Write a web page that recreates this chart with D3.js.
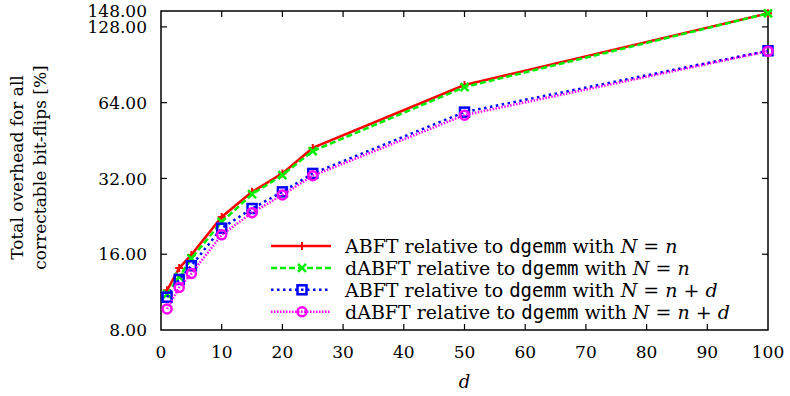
<!DOCTYPE html>
<html>
<head>
<meta charset="utf-8">
<script src="https://cdn.jsdelivr.net/npm/d3@7"></script>
<style>
  body { margin: 0; background: #fff; }
  text { font-family: "DejaVu Serif", "Liberation Serif", serif; }
  tspan.mono { font-family: "DejaVu Sans Mono", "Liberation Mono", monospace; }
</style>
</head>
<body>
<svg id="chart" width="790" height="396"><g></g></svg>
<script>
// values
const dValues = [1, 3, 5, 10, 15, 20, 25, 50, 100];
const abftN   = [11.5, 14.1, 15.9, 22.5, 28.3, 33.5, 42.3, 75.2, 145.0];
const dabftN  = [11.1, 13.0, 15.4, 21.5, 27.7, 33.0, 41.1, 73.8, 144.8];
const abftNd  = [10.8, 12.7, 14.4, 20.3, 24.3, 28.3, 33.5, 58.7, 102.9];
const dabftNd = [9.7, 11.8, 13.4, 19.1, 23.4, 27.5, 32.8, 57.1, 102.5];

const xTicks = [0, 10, 20, 30, 40, 50, 60, 70, 80, 90, 100];
const yTicks = [8, 16, 32, 64, 128, 148];

const seriesNames = ["ABFT", "dABFT", "ABFT", "dABFT"];
const seriesRhs = ["n", "n", "n+d", "n+d"];

const margin = {top: 11, right: 22, bottom: 66, left: 161};
const width = 790 - margin.left - margin.right;
const height = 396 - margin.top - margin.bottom;

const styles = [
  {color: "#ff0000", dash: null, marker: "plus"},
  {color: "#00ee00", dash: "6,3", marker: "cross"},
  {color: "#0000ff", dash: "2.5,3.5", marker: "square"},
  {color: "#ff00ff", dash: "1.5,1.5", marker: "circle"}
];
const seriesData = [abftN, dabftN, abftNd, dabftNd];

const svg = d3.select("#chart").select("g")
  .attr("transform", `translate(${margin.left},${margin.top})`);

const x = d3.scaleLinear().domain([0, 100]).range([0, width]);
const y = d3.scaleLog().base(2).domain([8, 148]).range([height, 0]);

// frame
svg.append("rect")
  .attr("width", width).attr("height", height)
  .attr("fill", "none").attr("stroke", "#000").attr("stroke-width", 1.5);

// ticks (inside, mirrored)
const tl = 6;
svg.selectAll("line.xt").data(xTicks.slice(1, -1)).join("line")
  .attr("x1", d => x(d)).attr("x2", d => x(d))
  .attr("y1", height).attr("y2", height - tl)
  .attr("stroke", "#000").attr("stroke-width", 1.2);
svg.selectAll("line.xt2").data(xTicks.slice(1, -1)).join("line")
  .attr("x1", d => x(d)).attr("x2", d => x(d))
  .attr("y1", 0).attr("y2", tl)
  .attr("stroke", "#000").attr("stroke-width", 1.2);
svg.selectAll("line.yt").data(yTicks.slice(1, -1)).join("line")
  .attr("x1", 0).attr("x2", tl)
  .attr("y1", d => y(d)).attr("y2", d => y(d))
  .attr("stroke", "#000").attr("stroke-width", 1.2);
svg.selectAll("line.yt2").data(yTicks.slice(1, -1)).join("line")
  .attr("x1", width).attr("x2", width - tl)
  .attr("y1", d => y(d)).attr("y2", d => y(d))
  .attr("stroke", "#000").attr("stroke-width", 1.2);

// tick labels
svg.selectAll("text.xl").data(xTicks).join("text")
  .attr("x", d => x(d)).attr("y", height + 28)
  .attr("text-anchor", "middle").attr("font-size", 17)
  .text(d => d);
svg.selectAll("text.yl").data(yTicks).join("text")
  .attr("x", -14).attr("y", d => y(d)).attr("dy", "0.36em")
  .attr("text-anchor", "end").attr("font-size", 17)
  .text(d => d.toFixed(2));

// axis titles
svg.append("text")
  .attr("x", width / 2).attr("y", height + 58)
  .attr("text-anchor", "middle").attr("font-size", 18)
  .attr("font-style", "italic").text("d");
const yt = svg.append("text")
  .attr("transform", `translate(${-138},${height / 2 - 3}) rotate(-90)`)
  .attr("text-anchor", "middle").attr("font-size", 17);
yt.append("tspan").attr("x", 0).attr("dy", 0).text("Total overhead for all");
yt.append("tspan").attr("x", 0).attr("dy", 23).text("correctable bit-flips [%]");

// markers
function drawMarker(g, kind, color, size) {
  const s = size;
  if (kind === "plus") {
    g.append("path").attr("d", `M${-s},0H${s}M0,${-s}V${s}`)
      .attr("stroke", color).attr("stroke-width", 2).attr("fill", "none");
  } else if (kind === "cross") {
    g.append("path").attr("d", `M${-s},${-s}L${s},${s}M${-s},${s}L${s},${-s}`)
      .attr("stroke", color).attr("stroke-width", 2.5).attr("fill", "none");
  } else if (kind === "square") {
    g.append("rect").attr("x", -s).attr("y", -s).attr("width", 2 * s).attr("height", 2 * s)
      .attr("stroke", color).attr("stroke-width", 2.5).attr("fill", "none");
  } else {
    g.append("circle").attr("r", s)
      .attr("stroke", color).attr("stroke-width", 2.5).attr("fill", "none");
  }
}
const markerSize = [4, 4, 4.5, 4.5];

const line = d3.line().x(d => x(d[0])).y(d => y(d[1]));

seriesData.forEach((vals, i) => {
  const st = styles[i];
  const pts = dValues.map((d, j) => [d, vals[j]]);
  svg.append("path").datum(pts)
    .attr("d", line)
    .attr("fill", "none").attr("stroke", st.color)
    .attr("stroke-width", 2.5)
    .attr("stroke-dasharray", st.dash);
  pts.forEach(p => {
    const g = svg.append("g").attr("transform", `translate(${x(p[0])},${y(p[1])})`);
    drawMarker(g, st.marker, st.color, markerSize[i]);
  });
});

// legend
const legend = svg.append("g").attr("transform", "translate(110,235)");
seriesData.forEach((vals, i) => {
  const st = styles[i];
  const row = legend.append("g").attr("transform", `translate(0,${i * 21.9})`);
  row.append("line").attr("x1", 0).attr("x2", 60).attr("y1", 0).attr("y2", 0)
    .attr("stroke", st.color).attr("stroke-width", 2.5)
    .attr("stroke-dasharray", st.dash);
  const mg = row.append("g").attr("transform", "translate(31,0)");
  drawMarker(mg, st.marker, st.color, markerSize[i]);
  const t = row.append("text").attr("x", 74).attr("y", 0).attr("dy", "0.36em")
    .attr("font-size", 19);
  t.append("tspan").text(seriesNames[i] + " relative to ");
  t.append("tspan").attr("class", "mono").text("dgemm");
  t.append("tspan").text(" with ");
  t.append("tspan").attr("font-style", "italic").text("N");
  t.append("tspan").text(" = ");
  if (seriesRhs[i] === "n") {
    t.append("tspan").attr("font-style", "italic").text("n");
  } else {
    t.append("tspan").attr("font-style", "italic").text("n");
    t.append("tspan").text(" + ");
    t.append("tspan").attr("font-style", "italic").text("d");
  }
});
</script>
</body>
</html>
